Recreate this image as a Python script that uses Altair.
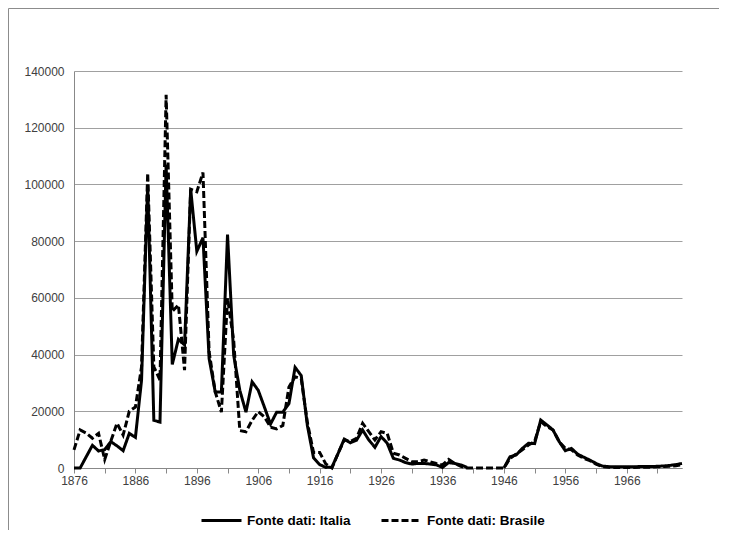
import altair as alt
import pandas as pd

years = list(range(1876, 1976))

italia = [
    0, 0, 4000, 8000, 6000, 6500, 9300, 7800, 6100, 12200,          # 1876-1885
    10800, 31000, 100000, 16800, 16200, 107000, 36500, 45400, 43400, 98300,  # 1886-1895
    76400, 81200, 38600, 26800, 26800, 82300, 39800, 27400, 19700, 30400,    # 1896-1905
    27400, 21500, 15500, 19700, 19700, 22700, 35500, 32600, 15000, 3600,     # 1906-1915
    1200, 200, 300, 5100, 10200, 8900, 9800, 13400, 9900, 7300,              # 1916-1925
    11100, 8700, 3400, 2800, 1900, 1400, 1600, 1600, 1400, 1100,             # 1926-1935
    200, 1900, 1600, 1100, 200, None, None, None, None, None,                # 1936-1945
    0, 4000, 4600, 6900, 8700, 8600, 16900, 15200, 13400, 9300,              # 1946-1955
    6100, 6900, 4900, 3800, 2800, 1600, 700, 500, 400, 400,                  # 1956-1965
    400, 400, 500, 500, 500, 600, 700, 900, 1200, 1600,                      # 1966-1975
]

brasile = [
    6400, 13400, 12300, 10500, 12200, 3000, 9500, 15800, 11600, 20000,       # 1876-1885
    21500, 35700, 104000, 35700, 31000, 131600, 55200, 57500, 34500, 98300,  # 1886-1895
    97400, 104200, 41000, 26800, 19700, 59900, 45000, 13200, 12800, 16800,   # 1896-1905
    19900, 18000, 14400, 13800, 15000, 28600, 32200, 31500, 16000, 5500,     # 1906-1915
    5500, 1400, 0, 5200, 9900, 9300, 10500, 15800, 12800, 9900,              # 1916-1925
    12800, 12200, 5200, 4600, 3400, 2200, 2200, 2800, 2200, 1600,            # 1926-1935
    1100, 3000, 1600, 600, 0, 0, 0, 0, 0, 0,                                 # 1936-1945
    0, 3400, 4900, 6400, 8100, 9300, 16400, 14600, 13400, 9300,              # 1946-1955
    6900, 6400, 4600, 3400, 2600, 1400, 500, 300, 200, 200,                  # 1956-1965
    200, 200, 300, 300, 300, 400, 500, 600, 800, 1200,                       # 1966-1975
]

series_names = ["Fonte dati: Italia", "Fonte dati: Brasile"]
y_ticks = list(range(0, 140001, 20000))
x_ticks = list(range(1876, 1976, 5))


def build(values, name):
    rows = []
    seg = 0
    prev_none = False
    for yr, v in zip(years, values):
        if v is None:
            prev_none = True
            continue
        if prev_none:
            seg += 1
            prev_none = False
        rows.append({"year": yr, "value": v, "series": name, "seg": seg})
    return pd.DataFrame(rows)


df_it = build(italia, series_names[0])
df_br = build(brasile, series_names[1])

FONT = "Liberation Sans"

x_enc = alt.X(
    "year:Q",
    scale=alt.Scale(domain=[1876, 1975], nice=False, zero=False),
    axis=alt.Axis(
        values=x_ticks,
        labelExpr="(datum.value - 1876) % 10 == 0 ? datum.value : ''",
        format="d",
        title=None,
        grid=False,
        tickSize=5,
        tickColor="#888888",
        domainColor="#888888",
        labelPadding=2,
        labelFlush=False,
        labelOverlap=False,
    ),
)
y_enc = alt.Y(
    "value:Q",
    scale=alt.Scale(domain=[0, 140000], nice=False),
    axis=alt.Axis(
        values=y_ticks,
        format="d",
        title=None,
        grid=True,
        gridColor="#a0a0a0",
        gridWidth=1,
        tickSize=0,
        domainColor="#888888",
        labelPadding=10,
    ),
)
dash_enc = alt.StrokeDash(
    "series:N",
    scale=alt.Scale(domain=series_names, range=[[1, 0], [7, 3]]),
    legend=alt.Legend(
        title=None,
        orient="none",
        direction="horizontal",
        legendX=126,
        legendY=428,
        symbolType="stroke",
        symbolSize=1600,
        symbolStrokeWidth=3,
        symbolStrokeColor="black",
        labelFont=FONT,
        labelFontSize=13.5,
        labelFontWeight="bold",
        labelColor="black",
        labelOffset=4,
        columnPadding=24,
    ),
)

line_it = alt.Chart(df_it).mark_line(color="black", strokeWidth=3, strokeCap="butt").encode(
    x=x_enc, y=y_enc, strokeDash=dash_enc, detail="seg:N"
)
line_br = alt.Chart(df_br).mark_line(color="black", strokeWidth=3, strokeCap="butt").encode(
    x=x_enc, y=y_enc, strokeDash=dash_enc, detail="seg:N"
)

frame_data = alt.Data(values=[{"a": 1}])
top_border = alt.Chart(frame_data).mark_rule(color="#8c8c8c", strokeWidth=1).encode(
    x=alt.value(-65.5), x2=alt.value(645), y=alt.value(-62.5)
)
left_border = alt.Chart(frame_data).mark_rule(color="#8c8c8c", strokeWidth=1).encode(
    x=alt.value(-65.5), y=alt.value(-62.5), y2=alt.value(466)
)

chart = (
    alt.layer(top_border, left_border, line_it, line_br)
    .properties(
        width=608,
        height=397,
        autosize=alt.AutoSizeParams(type="none"),
        padding={"left": 66, "top": 63, "right": 39, "bottom": 62},
    )
    .configure_view(stroke=None)
    .configure_axis(labelFont=FONT, labelFontSize=12, labelColor="#404040")
)

chart.save("out.html", embed_options={"renderer": "svg", "actions": False})
